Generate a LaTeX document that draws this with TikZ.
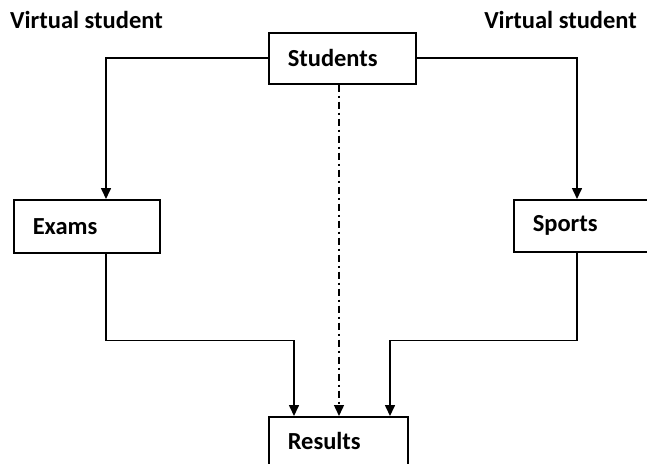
\documentclass[tikz,border=0pt]{standalone}
\usepackage{fontspec}
\setmainfont{Carlito}
\usetikzlibrary{arrows.meta}
\begin{document}
\begin{tikzpicture}[x=1pt,y=-1pt,
  txt/.style={font=\fontsize{24.5}{28}\selectfont\bfseries, inner sep=0pt},
  box/.style={draw, rectangle, anchor=north west, inner xsep=19pt, inner ysep=0pt,
    align=left, font=\fontsize{24.5}{28}\selectfont\bfseries, line width=1.5pt},
  conn/.style={line width=1.6pt, -{Triangle[width=10pt,length=11pt]}},
  dconn/.style={conn, line width=1.4pt, dash pattern=on 7pt off 4pt on 2pt off 4pt}]
\useasboundingbox (0,0) rectangle (647,463);
\clip (0,0) rectangle (647,463);
\node[txt, anchor=west] (vl) at (10,20) {Virtual student};
\node[txt, anchor=east] (vr) at (637,20) {Virtual student};
\node[box, text width=109pt, minimum height=51pt] (students) at (268,32) {Students};
\node[box, text width=108pt, minimum height=53pt] (exams) at (13,199) {Exams};
\node[box, text width=122pt, minimum height=52pt] (sports) at (513,199) {Sports};
\node[box, text width=101pt, minimum height=48pt] (results) at (268,416) {Results};
\draw[conn] (students.west) -| ([xshift=93pt]exams.north west);
\draw[conn] (students.east) -| ([xshift=64pt]sports.north west);
\draw[conn] ([xshift=93pt]exams.south west) -- ++(0,87) -| ([xshift=26pt]results.north west);
\draw[conn] ([xshift=64pt]sports.south west) -- ++(0,88) -| ([xshift=122pt]results.north west);
\draw[dconn] ([xshift=71pt]students.south west) -- ([xshift=71pt]results.north west);
\end{tikzpicture}
\end{document}
